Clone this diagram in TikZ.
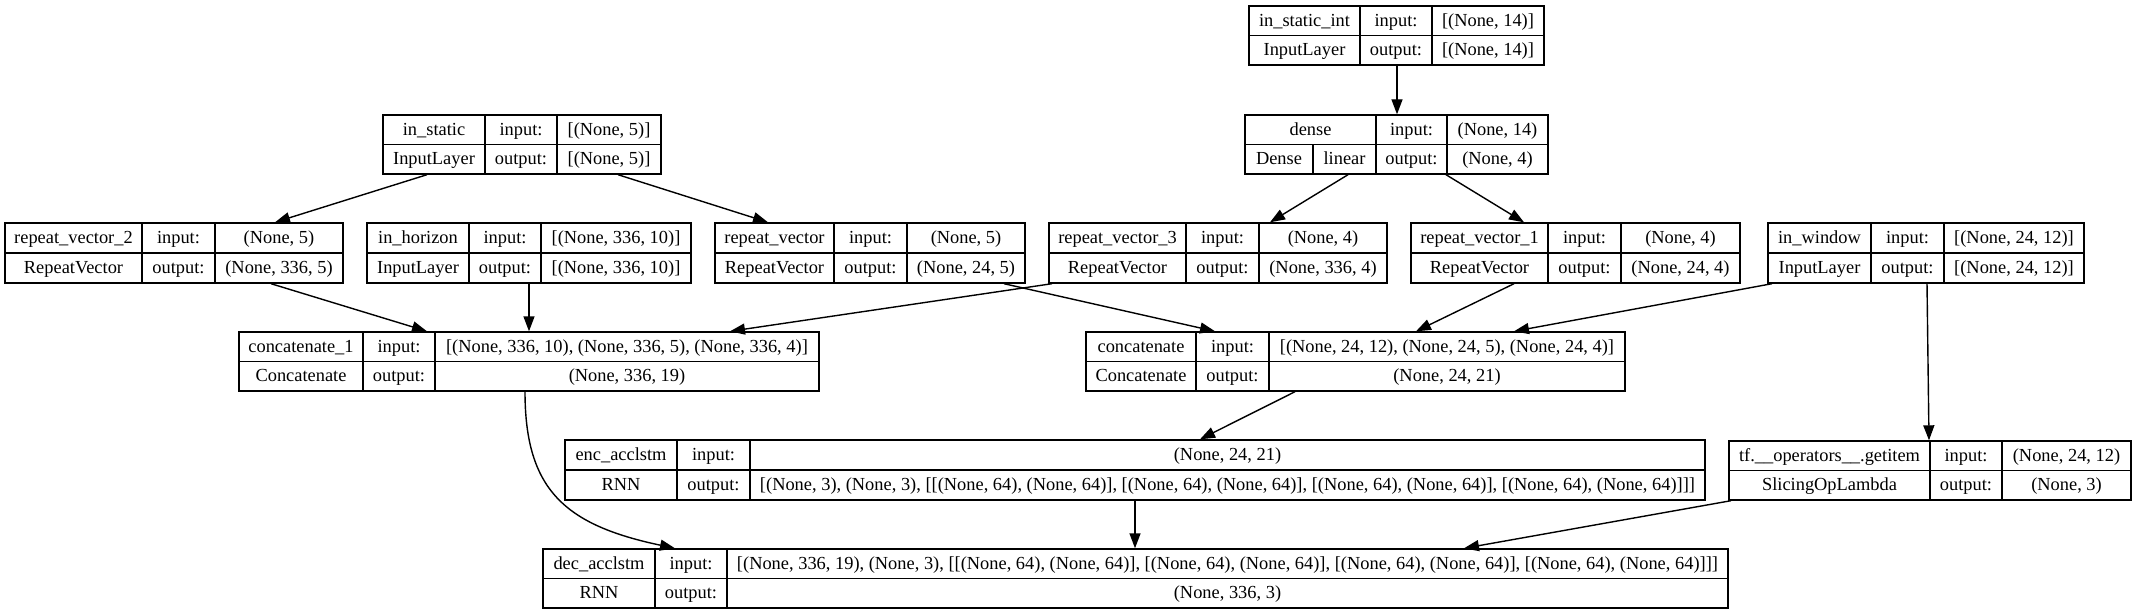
\documentclass[tikz,border=0pt]{standalone}
\usepackage{fontspec}
\setmainfont{Liberation Serif}
\usetikzlibrary{arrows.meta,fit,calc}
\newcommand\layerbox[7]{%
  \node[draw, inner sep=0pt, fit={(#2,#3) (#4,#5)}] (#1) {};
  \draw (#6,#3) -- (#6,#5) (#7,#3) -- (#7,#5) (#2,{(#3+#5)/2}) -- (#4,{(#3+#5)/2});
  \coordinate (#1-a) at ({(#2+#6)/2},{(3*#3+#5)/4});
  \coordinate (#1-b) at ({(#2+#6)/2},{(#3+3*#5)/4});
  \coordinate (#1-c) at ({(#6+#7)/2},{(3*#3+#5)/4});
  \coordinate (#1-d) at ({(#6+#7)/2},{(#3+3*#5)/4});
  \coordinate (#1-e) at ({(#7+#4)/2},{(3*#3+#5)/4});
  \coordinate (#1-f) at ({(#7+#4)/2},{(#3+3*#5)/4});
}
\newcommand\layertext[5]{%
  \node[lbl] (#1-n) at (#1-a) {#2};
  \node[lbl] (#1-t) at (#1-b) {#3};
  \node[lbl] (#1-i) at (#1-c) {input:};
  \node[lbl] (#1-o) at (#1-d) {output:};
  \node[lbl] (#1-iv) at (#1-e) {#4};
  \node[lbl] (#1-ov) at (#1-f) {#5};
}
\begin{document}
\begin{tikzpicture}[x=0.5pt,y=-0.5pt,line width=0.7pt,
  lbl/.style={inner sep=0pt,text height=7pt,text depth=1.6pt,font=\fontsize{9.2}{11}\selectfont},
  edge/.style={-{Triangle[length=7.5pt,width=5.5pt]}}]
\path[use as bounding box,fill=white] (0,0) rectangle (2136,615);

\layerbox{instint}{1249}{6}{1544}{65}{1360}{1432}
\layertext{instint}{in\_static\_int}{InputLayer}{[(None, 14)]}{[(None, 14)]}

\layerbox{instatic}{383}{115}{661}{174}{485}{557}
\layertext{instatic}{in\_static}{InputLayer}{[(None, 5)]}{[(None, 5)]}

\layerbox{dense}{1245}{115}{1548}{174}{1376}{1447}
\draw (1313,144.5) -- (1313,174);
\node[lbl] (dense-n) at ({(1245+1376)/2},130) {dense};
\node[lbl] (dense-t) at ({(1245+1313)/2},159) {Dense};
\node[lbl] (dense-l) at ({(1313+1376)/2},159) {linear};
\node[lbl] (dense-i) at (dense-c) {input:};
\node[lbl] (dense-o) at (dense-d) {output:};
\node[lbl] (dense-iv) at (dense-e) {(None, 14)};
\node[lbl] (dense-ov) at (dense-f) {(None, 4)};

\layerbox{rvtwo}{5}{223}{343}{283}{142}{215}
\layertext{rvtwo}{repeat\_vector\_2}{RepeatVector}{(None, 5)}{(None, 336, 5)}

\layerbox{inhor}{367}{223}{691}{283}{469}{541}
\layertext{inhor}{in\_horizon}{InputLayer}{[(None, 336, 10)]}{[(None, 336, 10)]}

\layerbox{rv}{715}{223}{1025}{283}{834}{907}
\layertext{rv}{repeat\_vector}{RepeatVector}{(None, 5)}{(None, 24, 5)}

\layerbox{rvthree}{1049}{223}{1387}{283}{1186}{1259}
\layertext{rvthree}{repeat\_vector\_3}{RepeatVector}{(None, 4)}{(None, 336, 4)}

\layerbox{rvone}{1411}{223}{1740}{283}{1548}{1621}
\layertext{rvone}{repeat\_vector\_1}{RepeatVector}{(None, 4)}{(None, 24, 4)}

\layerbox{inwin}{1768}{223}{2084}{283}{1871}{1944}
\layertext{inwin}{in\_window}{InputLayer}{[(None, 24, 12)]}{[(None, 24, 12)]}

\layerbox{concatone}{239}{332}{819}{391}{363}{435}
\layertext{concatone}{concatenate\_1}{Concatenate}{[(None, 336, 10), (None, 336, 5), (None, 336, 4)]}{(None, 336, 19)}

\layerbox{concat}{1086}{332}{1625}{391}{1196}{1269}
\layertext{concat}{concatenate}{Concatenate}{[(None, 24, 12), (None, 24, 5), (None, 24, 4)]}{(None, 24, 21)}

\layerbox{enc}{565}{440}{1705}{500}{677}{750}
\layertext{enc}{enc\_acclstm}{RNN}{(None, 24, 21)}{[(None, 3), (None, 3), [[(None, 64), (None, 64)], [(None, 64), (None, 64)], [(None, 64), (None, 64)], [(None, 64), (None, 64)]]]}

\layerbox{getitem}{1729}{441}{2131}{500}{1930}{2002}
\layertext{getitem}{tf.\_\_operators\_\_.getitem}{SlicingOpLambda}{(None, 24, 12)}{(None, 3)}

\layerbox{dec}{543}{549}{1728}{608}{655}{727}
\layertext{dec}{dec\_acclstm}{RNN}{[(None, 336, 19), (None, 3), [[(None, 64), (None, 64)], [(None, 64), (None, 64)], [(None, 64), (None, 64)], [(None, 64), (None, 64)]]]}{(None, 336, 3)}

% edges
\draw[edge] (instint.south -| 1397,0) -- (dense.north -| 1397,0);
\draw[edge] (instatic.south -| 427,0) -- (rvtwo.north -| 275,0);
\draw[edge] (instatic.south -| 618,0) -- (rv.north -| 768,0);
\draw[edge] (dense.south -| 1348,0) -- (rvthree.north -| 1270,0);
\draw[edge] (dense.south -| 1446,0) -- (rvone.north -| 1524,0);
\draw[edge] (rvtwo.south -| 271,0) -- (concatone.north -| 427,0);
\draw[edge] (inhor.south -| 529,0) -- (concatone.north -| 529,0);
\draw[edge] (rvthree.south -| 1052,0) -- (concatone.north -| 730,0);
\draw[edge] (rv.south -| 1004,0) -- (concat.north -| 1215,0);
\draw[edge] (rvone.south -| 1514,0) -- (concat.north -| 1416,0);
\draw[edge] (inwin.south -| 1772,0) -- (concat.north -| 1514,0);
\draw[edge] (inwin.south -| 1927,0) -- (getitem.north -| 1929,0);
\draw[edge] (concat.south -| 1295,0) -- (enc.north -| 1200,0);
\draw[edge] (concatone.south -| 525,0) .. controls (525,490) and (565,525) .. (dec.north -| 675,0);
\draw[edge] (enc.south -| 1135,0) -- (dec.north -| 1135,0);
\draw[edge] (getitem.south -| 1731,0) -- (dec.north -| 1464,0);
\end{tikzpicture}
\end{document}
